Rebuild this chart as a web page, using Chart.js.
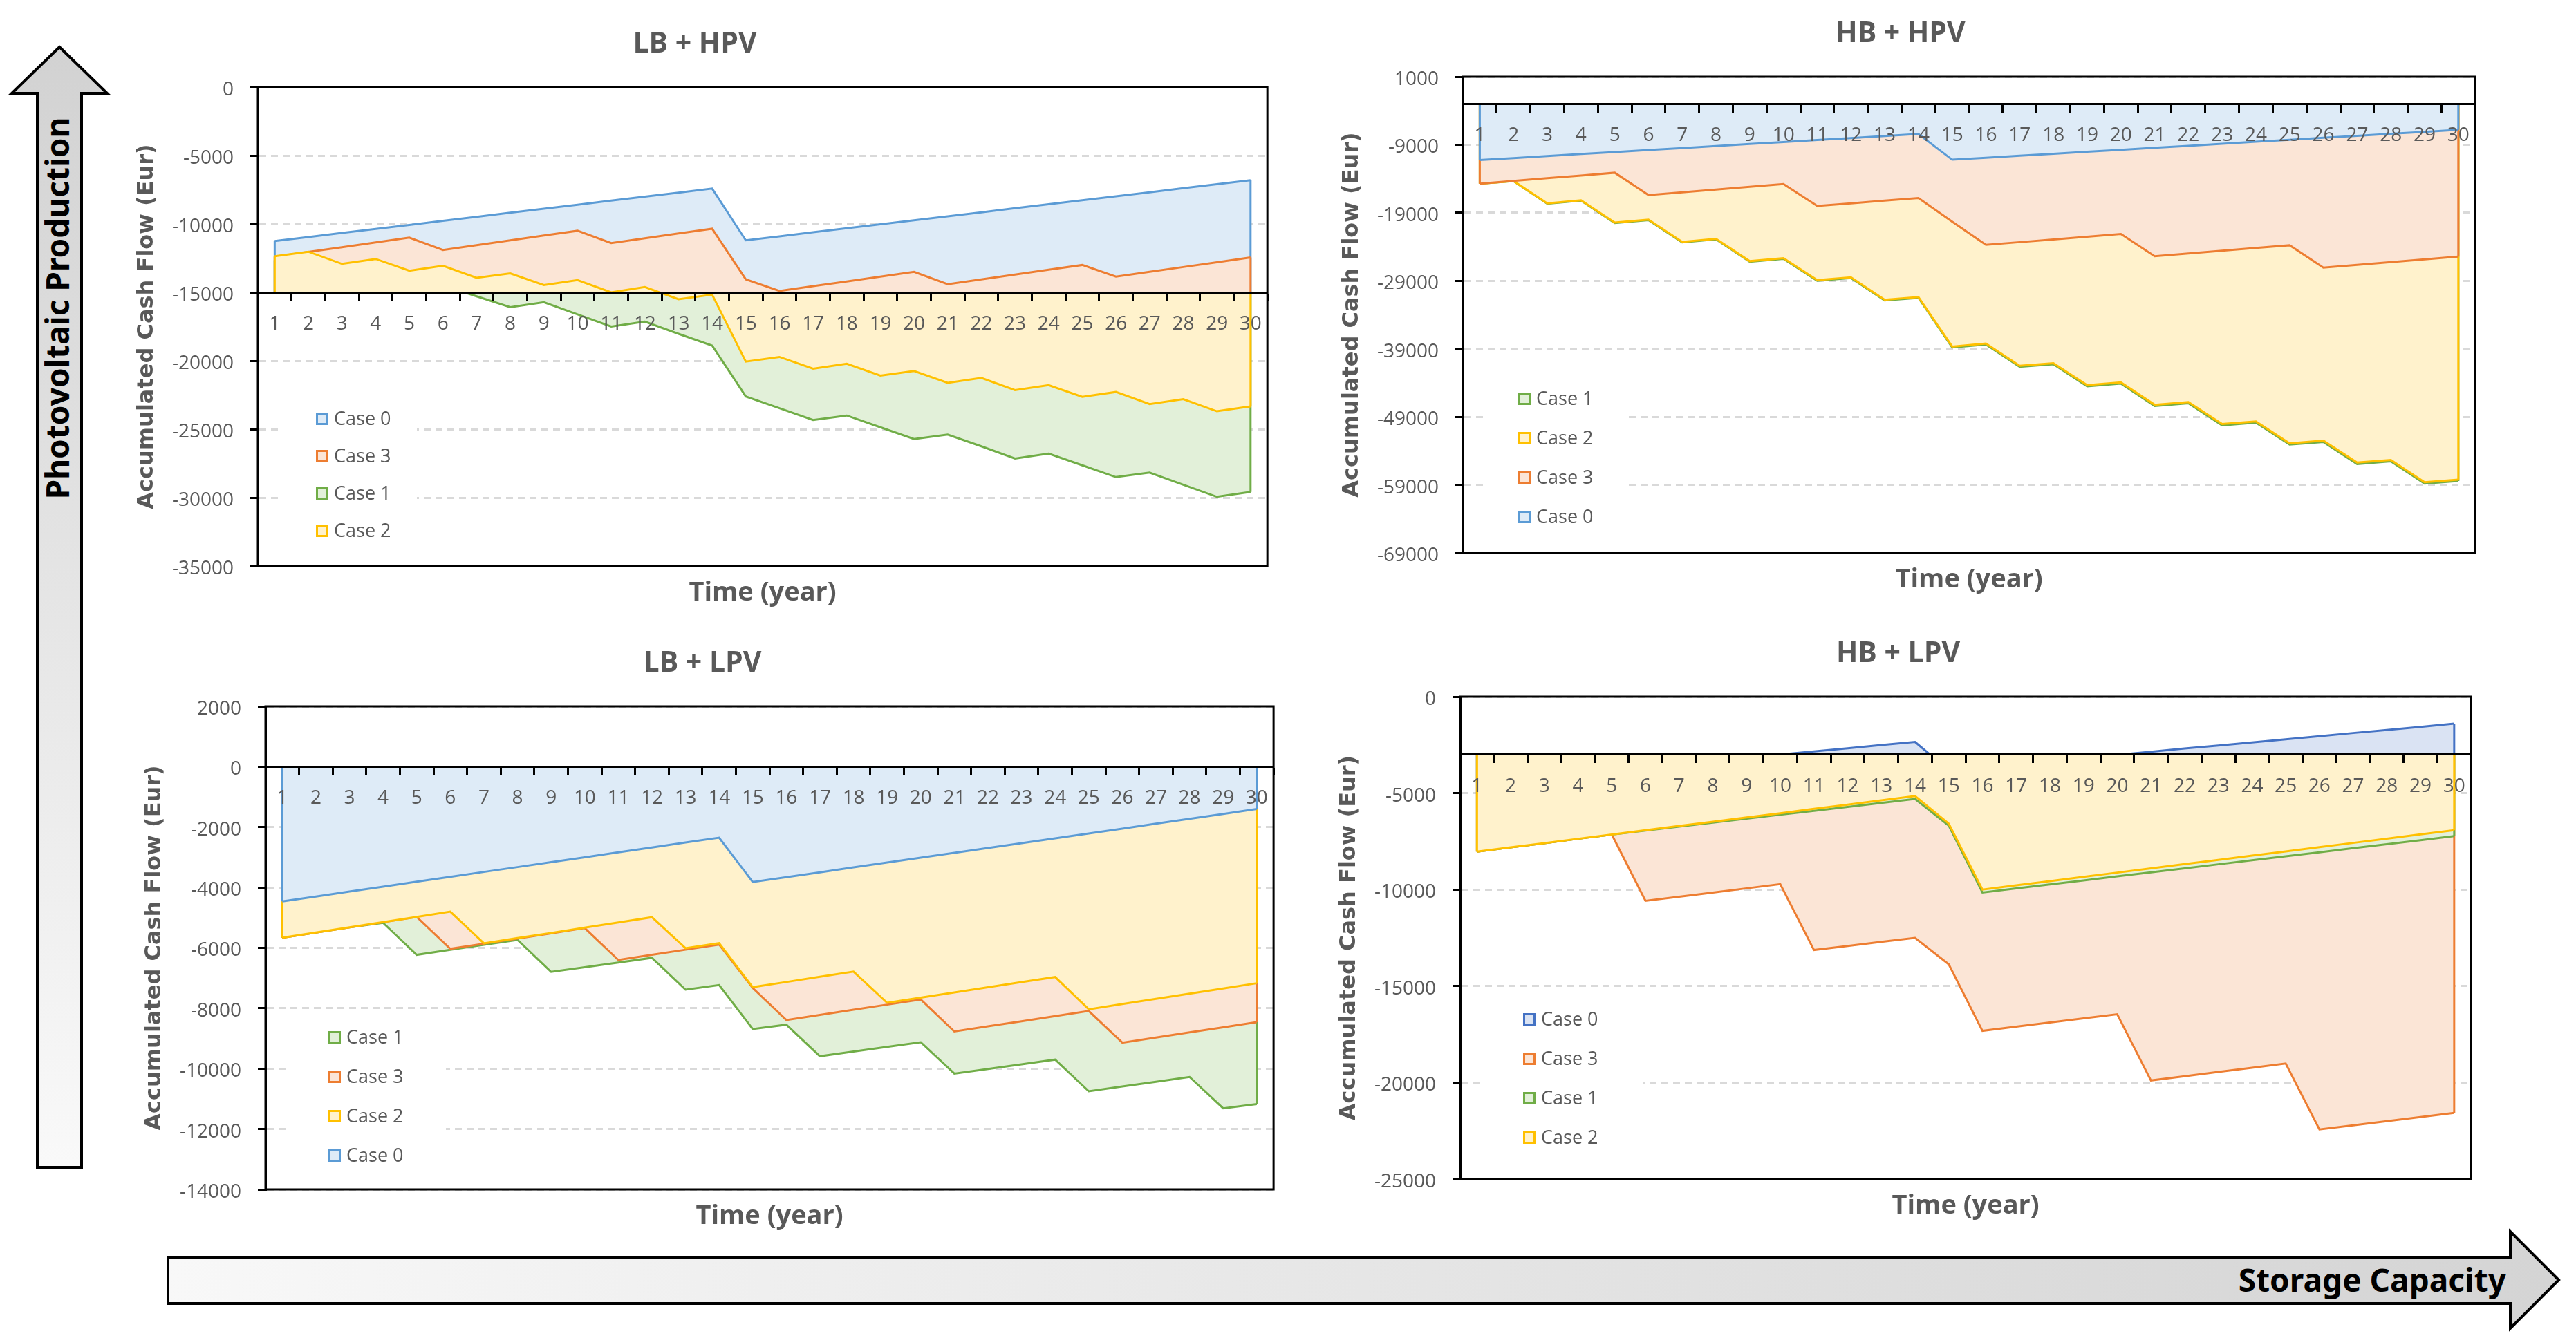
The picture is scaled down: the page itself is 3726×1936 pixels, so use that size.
<!DOCTYPE html>
<html>
<head>
<meta charset="utf-8">
<title>Accumulated cash flow by storage capacity and PV production</title>
<script src="https://cdn.jsdelivr.net/npm/chart.js@4.4.1/dist/chart.umd.min.js"></script>
<style>
  html, body { margin: 0; padding: 0; background: #fff; }
  #page { position: relative; width: 3726px; height: 1936px; overflow: hidden; background: #fff; }
  #page canvas { position: absolute; }
  #arrows { position: absolute; left: 0; top: 0; }
  .arrowLabel { position: absolute; font-family: 'Noto Sans', sans-serif; font-weight: bold; font-size: 46px; color: #000; white-space: nowrap; line-height: 1; }
  #pvLabel { left: 82px; top: 446px; transform: translate(-50%, -50%) rotate(-90deg); }
  #storageLabel { right: 101px; top: 1851px; transform: translateY(-50%); }
</style>
</head>
<body>
<div id="page">
  <svg id="arrows" width="3726" height="1936">
    <defs>
      <linearGradient id="gv" x1="0" y1="1" x2="0" y2="0">
        <stop offset="0" stop-color="#f9f9f9"/>
        <stop offset="1" stop-color="#d2d2d2"/>
      </linearGradient>
      <linearGradient id="gh" x1="0" y1="0" x2="1" y2="0">
        <stop offset="0" stop-color="#f8f8f8"/>
        <stop offset="1" stop-color="#d4d4d4"/>
      </linearGradient>
    </defs>
    <polygon points="86,68 155,135 118,135 118,1689 54,1689 54,135 17,135" fill="url(#gv)" stroke="#000" stroke-width="4"/>
    <polygon points="243,1819 3631,1819 3631,1782 3701,1852 3631,1922 3631,1886 243,1886" fill="url(#gh)" stroke="#000" stroke-width="4"/>
  </svg>
  <div id="pvLabel" class="arrowLabel">Photovoltaic Production</div>
  <div id="storageLabel" class="arrowLabel">Storage Capacity</div>
</div>

<script>
// years on the x axis
const years = ['1', '2', '3', '4', '5', '6', '7', '8', '9', '10', '11', '12', '13', '14', '15',
  '16', '17', '18', '19', '20', '21', '22', '23', '24', '25', '26', '27', '28', '29', '30'];

// Case 0 has no battery, so it is the same for LB and HB
const hpvCase0 = [-11250, -10955, -10660, -10365, -10070, -9775, -9480, -9185, -8890, -8595, -8300, -8005, -7710, -7415,
  -11200, -10905, -10610, -10320, -10025, -9735, -9440, -9150, -8855, -8560, -8270, -7975, -7685, -7390, -7095, -6805];
const lpvCase0 = [-4460, -4300, -4135, -3975, -3810, -3650, -3485, -3325, -3160, -3000, -2835, -2675, -2510, -2350,
  -3820, -3660, -3500, -3335, -3175, -3015, -2855, -2690, -2530, -2370, -2210, -2050, -1885, -1725, -1565, -1400];

// LB + HPV
const lbHpvCase1 = [-12650, -13500, -13140, -13990, -14840, -14480, -15290, -16080, -15720, -16610, -17500, -17140, -18030, -18890,
  -22610, -23470, -24330, -24000, -24860, -25720, -25390, -26250, -27140, -26780, -27640, -28500, -28170, -29060, -29940, -29580];
const lbHpvCase2 = [-12360, -12030, -12920, -12560, -13420, -13060, -13940, -13610, -14470, -14110, -15000, -14610, -15500, -15170,
  -20060, -19720, -20580, -20220, -21080, -20750, -21610, -21250, -22140, -21780, -22640, -22280, -23170, -22810, -23690, -23330];
const lbHpvCase3 = [-12400, -12050, -11700, -11350, -11000, -11900, -11550, -11200, -10850, -10500, -11400, -11050, -10700, -10350,
  -14050, -14900, -14550, -14200, -13850, -13500, -14400, -14050, -13700, -13350, -13000, -13850, -13500, -13150, -12800, -12450];

// HB + HPV
const hbHpvCase1 = [-14720, -14340, -17660, -17220, -20500, -20070, -23350, -22910, -26200, -25760, -28990, -28600, -31890, -31500,
  -38800, -38370, -41650, -41260, -44500, -44110, -47400, -47010, -50240, -49850, -53080, -52700, -55930, -55540, -58820, -58430];
const hbHpvCase2 = [-14720, -14330, -17610, -17170, -20440, -20000, -23280, -22830, -26110, -25670, -28890, -28500, -31780, -31390,
  -38670, -38220, -41500, -41110, -44330, -43940, -47220, -46830, -50060, -49670, -52890, -52500, -55720, -55330, -58610, -58220];
const hbHpvCase3 = [-14720, -14320, -13920, -13520, -13110, -16390, -15990, -15590, -15190, -14780, -18000, -17610, -17220, -16830,
  -20300, -23720, -23320, -22920, -22510, -22110, -25390, -24990, -24580, -24180, -23780, -27060, -26660, -26250, -25850, -25440];

// LB + LPV
const lbLpvCase1 = [-5660, -5490, -5320, -5170, -6230, -6065, -5900, -5735, -6795, -6640, -6485, -6330, -7385, -7230,
  -8690, -8545, -9590, -9435, -9280, -9125, -10165, -10010, -9855, -9700, -10750, -10590, -10435, -10275, -11315, -11175];
const lbLpvCase2 = [-5660, -5490, -5320, -5145, -4975, -4800, -5850, -5675, -5505, -5330, -5160, -4985, -6010, -5840,
  -7300, -7130, -6955, -6785, -7820, -7650, -7475, -7305, -7135, -6965, -8035, -7860, -7690, -7515, -7345, -7170];
const lbLpvCase3 = [-5660, -5490, -5320, -5145, -4975, -6030, -5860, -5690, -5520, -5345, -6400, -6230, -6060, -5890,
  -7330, -8390, -8220, -8050, -7880, -7710, -8770, -8600, -8430, -8260, -8090, -9140, -8970, -8800, -8630, -8460];

// HB + LPV
const hbLpvCase1 = [-8030, -7810, -7590, -7365, -7145, -6940, -6735, -6530, -6325, -6120, -5915, -5710, -5505, -5300,
  -6680, -10150, -9940, -9730, -9525, -9315, -9105, -8900, -8690, -8480, -8275, -8065, -7855, -7650, -7440, -7230];
const hbLpvCase2 = [-8030, -7810, -7590, -7365, -7145, -6925, -6700, -6480, -6260, -6040, -5815, -5595, -5375, -5150,
  -6580, -10000, -9780, -9560, -9340, -9120, -8900, -8680, -8460, -8240, -8020, -7800, -7580, -7360, -7140, -6920];
const hbLpvCase3 = [-8030, -7810, -7590, -7365, -7145, -10580, -10365, -10150, -9935, -9720, -13130, -12920, -12710, -12500,
  -13870, -17320, -17105, -16890, -16675, -16460, -19890, -19670, -19450, -19230, -19010, -22430, -22215, -22000, -21785, -21570];

// line colour, fill colour
const colors = {
  c0: ['#5B9BD5', '#DEEBF7'],
  c0dark: ['#4472C4', '#DAE3F3'],
  c1: ['#70AD47', '#E2F0D9'],
  c2: ['#FFC000', '#FFF2CC'],
  c3: ['#ED7D31', '#FBE5D6']
};

// box = plot area [left, top, right, bottom] in page pixels
// series go from the bottom layer to the top one, same order as the legend
const panels = [
  { title: 'LB + HPV', box: [373, 126, 1837, 819], titleX: 1008,
    min: -35000, max: 0, step: 5000, cross: -15000,
    legend: { x: 84, y: 480, step: 54, padL: 48, w: 146 },
    series: [['Case 0', hpvCase0, 'c0'], ['Case 3', lbHpvCase3, 'c3'], ['Case 1', lbHpvCase1, 'c1'], ['Case 2', lbHpvCase2, 'c2']] },
  { title: 'HB + HPV', box: [2116, 111, 3582, 800], titleX: 2753,
    min: -69000, max: 1000, step: 10000, cross: -3000,
    legend: { x: 80, y: 466, step: 57, padL: 48, w: 154 },
    series: [['Case 1', hbHpvCase1, 'c1'], ['Case 2', hbHpvCase2, 'c2'], ['Case 3', hbHpvCase3, 'c3'], ['Case 0', hpvCase0, 'c0']] },
  { title: 'LB + LPV', box: [384, 1022, 1848, 1721], titleX: 1018,
    min: -14000, max: 2000, step: 2000, cross: 0,
    legend: { x: 91, y: 479, step: 57, padL: 57, w: 170 },
    series: [['Case 1', lbLpvCase1, 'c1'], ['Case 3', lbLpvCase3, 'c3'], ['Case 2', lbLpvCase2, 'c2'], ['Case 0', lpvCase0, 'c0']] },
  { title: 'HB + LPV', box: [2112, 1008, 3579, 1706], titleX: 2748,
    min: -25000, max: 0, step: 5000, cross: -3000,
    legend: { x: 91, y: 467, step: 57, padL: 60, w: 173 },
    series: [['Case 0', lpvCase0, 'c0dark'], ['Case 3', hbLpvCase3, 'c3'], ['Case 1', hbLpvCase1, 'c1'], ['Case 2', hbLpvCase2, 'c2']] }
];

Chart.defaults.font.family = "'Open Sans', sans-serif";
Chart.defaults.color = '#595959';

// Excel draws the area outline down to the axis at both ends
const areaEdges = {
  id: 'areaEdges',
  afterDatasetDraw(chart, args) {
    const ds = chart.data.datasets[args.index];
    const pts = args.meta.data;
    if (!pts.length) return;
    const y0 = chart.scales.y.getPixelForValue(ds.fill.value);
    const last = pts[pts.length - 1];
    const ctx = chart.ctx;
    ctx.save();
    ctx.strokeStyle = ds.borderColor;
    ctx.lineWidth = ds.borderWidth;
    ctx.beginPath();
    ctx.moveTo(pts[0].x, y0);
    ctx.lineTo(pts[0].x, pts[0].y);
    ctx.moveTo(last.x, last.y);
    ctx.lineTo(last.x, y0);
    ctx.stroke();
    ctx.restore();
  }
};

// legend sitting inside the plot area, lower left
const insideLegend = {
  id: 'insideLegend',
  afterDatasetsDraw(chart, args, o) {
    const { ctx, chartArea: a } = chart;
    const bx = a.left + o.x, by = a.top + o.y;
    const n = chart.data.datasets.length;
    ctx.save();
    ctx.fillStyle = '#fff';
    ctx.fillRect(bx - o.padL, by - 40, o.padL + o.w, o.step * (n - 1) + 80);
    ctx.font = "27px 'Open Sans', sans-serif";
    ctx.textBaseline = 'middle';
    chart.data.datasets.forEach((ds, i) => {
      const cy = by + i * o.step;
      ctx.fillStyle = ds.backgroundColor;
      ctx.fillRect(bx, cy - 9, 18, 18);
      ctx.strokeStyle = ds.borderColor;
      ctx.lineWidth = 3;
      ctx.strokeRect(bx + 1.5, cy - 7.5, 15, 15);
      ctx.fillStyle = '#595959';
      ctx.fillText(ds.label, bx + 26, cy + 1);
    });
    ctx.restore();
  }
};

// black plot area border
const plotFrame = {
  id: 'plotFrame',
  afterDraw(chart) {
    const { ctx, chartArea: a } = chart;
    ctx.save();
    ctx.strokeStyle = '#000';
    ctx.lineWidth = 3;
    ctx.strokeRect(a.left, a.top, a.width, a.height);
    ctx.restore();
  }
};

const page = document.getElementById('page');

panels.forEach(p => {
  const [L, T, R, B] = p.box;
  const left = L - 200, top = T - 100;
  const width = 2 * (p.titleX - left);
  const height = B - T + 166;

  const canvas = document.createElement('canvas');
  canvas.width = width;
  canvas.height = height;
  canvas.style.left = left + 'px';
  canvas.style.top = top + 'px';
  canvas.style.width = width + 'px';
  canvas.style.height = height + 'px';
  page.appendChild(canvas);

  const n = p.series.length;
  const datasets = p.series.map(([label, data, c], i) => ({
    label: label,
    data: data,
    borderColor: colors[c][0],
    backgroundColor: colors[c][1],
    borderWidth: 3,
    pointRadius: 0,
    tension: 0,
    fill: { value: p.cross },
    order: n - i
  }));

  new Chart(canvas, {
    type: 'line',
    data: { labels: years, datasets: datasets },
    plugins: [areaEdges, insideLegend, plotFrame],
    options: {
      responsive: false,
      devicePixelRatio: 1,
      animation: false,
      events: [],
      layout: { padding: { left: 0, top: 0, right: width - (R - left), bottom: 0 } },
      plugins: {
        legend: { display: false },
        tooltip: { enabled: false },
        title: {
          display: true,
          text: p.title,
          color: '#595959',
          font: { size: 41, weight: 'bold', lineHeight: '48px' },
          padding: { top: 14, bottom: 38 }
        },
        subtitle: {
          display: true,
          text: 'Time (year)',
          position: 'bottom',
          fullSize: false,
          color: '#595959',
          font: { size: 38, weight: 'bold', lineHeight: '46px' },
          padding: { top: 16, bottom: 4 }
        },
        insideLegend: p.legend
      },
      scales: {
        x: {
          type: 'category',
          offset: true,
          position: { y: p.cross },
          grid: { drawOnChartArea: false, offset: true, tickLength: 11, tickColor: '#000', tickWidth: 3, z: 1 },
          border: { color: '#000', width: 3, z: 1 },
          ticks: { autoSkip: false, maxRotation: 0, padding: 18, color: '#595959', font: { size: 28 }, z: 1 }
        },
        y: {
          min: p.min,
          max: p.max,
          afterFit(scale) { scale.width = 200; },
          grid: { color: '#d9d9d9', lineWidth: 3, tickColor: '#000', tickWidth: 3, tickLength: 11, tickBorderDash: [] },
          border: { color: '#000', width: 3, dash: [10, 7] },
          ticks: {
            stepSize: p.step,
            padding: 24,
            labelOffset: 4,
            color: '#595959',
            font: { size: 28 },
            callback: v => String(v)
          },
          title: {
            display: true,
            text: 'Accumulated Cash Flow (Eur)',
            color: '#595959',
            font: { family: "'DejaVu Sans', sans-serif", size: 32, weight: 'bold', lineHeight: '38px' },
            padding: { top: 21, bottom: 0 }
          }
        }
      }
    }
  });
});
</script>
</body>
</html>
